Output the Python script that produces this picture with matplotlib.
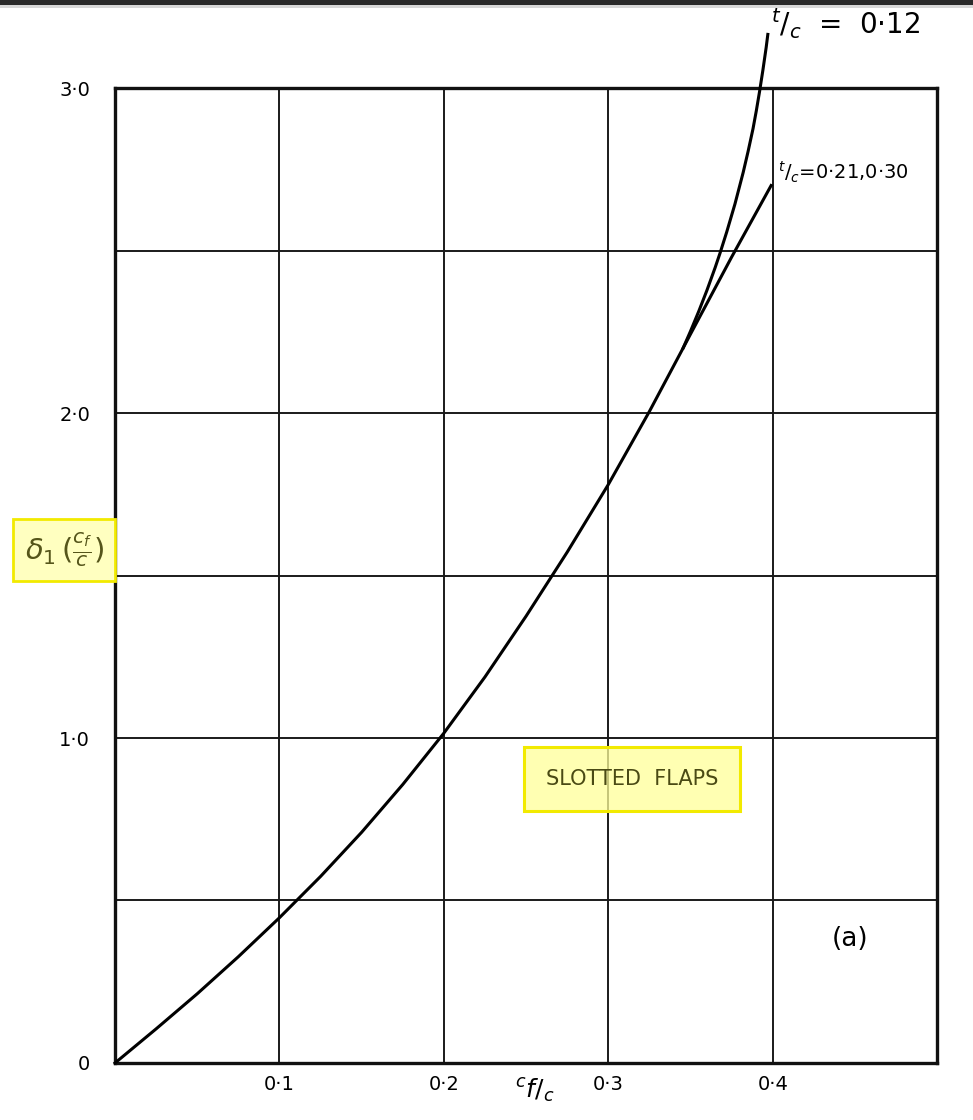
import matplotlib.pyplot as plt
from matplotlib.patches import Rectangle

# Values
cf_c = [0.0, 0.025, 0.05, 0.075, 0.1, 0.125, 0.15, 0.175, 0.2, 0.225,
        0.25, 0.275, 0.3, 0.325, 0.3455, 0.35, 0.375, 0.399]
delta_thick = [0.0, 0.105, 0.213, 0.327, 0.447, 0.574, 0.71, 0.857, 1.015, 1.188,
               1.375, 1.572, 1.78, 2.005, 2.2, 2.243, 2.48, 2.70]

# t/c = 0.12 branch leaving the common curve
cf_c_thin = [0.3455, 0.35, 0.355, 0.36, 0.365, 0.368, 0.372, 0.377, 0.382,
             0.385, 0.388, 0.390, 0.392, 0.394, 0.396, 0.397]
delta_thin = [2.2, 2.252, 2.313, 2.378, 2.448, 2.493, 2.557, 2.643, 2.74,
              2.805, 2.875, 2.93, 2.99, 3.055, 3.125, 3.165]

x_ticks = [0.1, 0.2, 0.3, 0.4]
x_tick_labels = ["0·1", "0·2", "0·3", "0·4"]
y_ticks = [0.0, 1.0, 2.0, 3.0]
y_tick_labels = ["0", "1·0", "2·0", "3·0"]

fig = plt.figure(figsize=(9.73, 11.2), dpi=100)
ax = fig.add_axes([0.1182, 0.0509, 0.845, 0.8705])

# dark strip at the very top of the scan
fig.patches.append(Rectangle((0, 0.9955), 1, 0.0045, transform=fig.transFigure,
                             facecolor="#2a2a2a", edgecolor="none"))
fig.patches.append(Rectangle((0, 0.993), 1, 0.0025, transform=fig.transFigure,
                             facecolor="#d8d8d8", edgecolor="none"))

ax.set_xlim(0, 0.5)
ax.set_ylim(0, 3.0)

# grid
for gx in [0.1, 0.2, 0.3, 0.4]:
    ax.axvline(gx, color="#1a1a1a", lw=1.4, zorder=1)
for gy in [0.5, 1.0, 1.5, 2.0, 2.5]:
    ax.axhline(gy, color="#1a1a1a", lw=1.4, zorder=1)

ax.plot(cf_c, delta_thick, color="black", lw=2.2, clip_on=False, zorder=3)
ax.plot(cf_c_thin, delta_thin, color="black", lw=2.2, clip_on=False, zorder=3)

for s in ax.spines.values():
    s.set_linewidth(2.4)
    s.set_color("#111111")

ax.set_xticks(x_ticks)
ax.set_xticklabels(x_tick_labels, fontsize=14)
for lbl in ax.get_xticklabels():
    lbl.set_x(lbl.get_position()[0])
ax.set_yticks(y_ticks)
ax.set_yticklabels(y_tick_labels, fontsize=14)
ax.tick_params(axis="x", length=0, pad=9)
ax.tick_params(axis="y", length=0, pad=18)

# x label
ax.text(0.255, -0.085, r"$^{c}f/_{c}$", fontsize=18, ha="center", va="center",
        clip_on=False)

# curve labels
ax.text(0.399, 3.2, r"$^{t}/_{c}$  =  0·12", fontsize=20, ha="left", va="center",
        clip_on=False)
ax.text(0.403, 2.74, r"$^{t}/_{c}$=0·21,0·30", fontsize=14, ha="left", va="center")

# y label in yellow highlight box
fig.text(0.066, 0.509, r"$\delta_1\,(\frac{c_f}{c})$", fontsize=21,
         color="#55551a", ha="center", va="center",
         bbox=dict(boxstyle="square,pad=0.4", facecolor="#ffffc0",
                   edgecolor="#f2ea00", lw=2))

# SLOTTED FLAPS in yellow highlight box
ax.text(0.3145, 0.874, "SLOTTED  FLAPS", fontsize=15, color="#4a4a14",
        ha="center", va="center", zorder=4,
        bbox=dict(boxstyle="square,pad=1.05", facecolor=(1, 1, 0.6, 0.75),
                  edgecolor="#f2ea00", lw=2.2))

ax.text(0.447, 0.38, "(a)", fontsize=19, ha="center", va="center")

fig.savefig("out.png", dpi=100)
